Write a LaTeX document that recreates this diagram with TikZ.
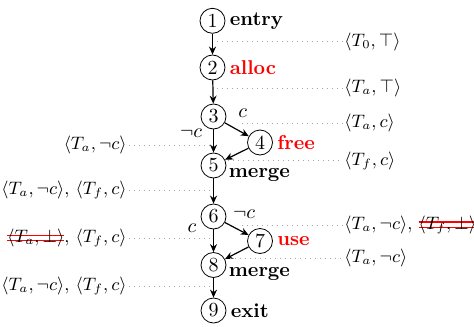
\documentclass[tikz,border=0pt]{standalone}
\usetikzlibrary{positioning,arrows.meta}

\newsavebox{\strikeBox}
\newcommand{\redStrike}[1]{\sbox{\strikeBox}{#1}%
  \rlap{\color{red}\rule[0.2ex]{\wd\strikeBox}{0.6pt}}%
  \rlap{\color{red}\rule[0.9ex]{\wd\strikeBox}{0.6pt}}%
  \usebox{\strikeBox}}

\begin{document}
\begin{tikzpicture}[x=0.5pt, y=-0.5pt,
    block/.style={circle, draw, minimum size=12.5pt, inner sep=0pt},
    tag/.style={font=\bfseries, inner sep=2pt},
    flow/.style={-{Stealth[length=4pt,width=3.5pt]}, line width=0.6pt},
    annot/.style={dotted, gray!70, line width=0.5pt},
    state/.style={inner sep=1pt, font=\small}]

    \definecolor{hotColour}{HTML}{FF0000}

    \useasboundingbox (0,0) rectangle (474,326);

    % Blocks
    \node[block] (n1) at (212.5,20.8) {1};
    \node[block] (n2) at (212.5,67.5) {2};
    \node[block] (n3) at (213.5,116.5) {3};
    \node[block] (n4) at (260,142.5) {4};
    \node[block] (n5) at (213.5,165.5) {5};
    \node[block] (n6) at (213.5,216.5) {6};
    \node[block] (n7) at (260,241) {7};
    \node[block] (n8) at (213.5,265) {8};
    \node[block] (n9) at (213.5,310.5) {9};

    % Block names
    \node[tag, right=0pt of n1] (t1) {entry};
    \node[tag, right=0pt of n2, text=hotColour] (t2) {alloc};
    \node[tag, right=0pt of n4, text=hotColour] (t4) {free};
    \node[tag, anchor=north west, inner sep=1pt] (t5) at (n5.east) {merge};
    \node[tag, right=0pt of n7, text=hotColour] (t7) {use};
    \node[tag, anchor=north west, inner sep=1pt] (t8) at (n8.east) {merge};
    \node[tag, right=0pt of n9] (t9) {exit};

    % Control flow
    \draw[flow] (n1) -- (n2);
    \draw[flow] (n2) -- (n3);
    \draw[flow] (n3) -- (n4);
    \draw[flow] (n3) -- (n5);
    \draw[flow] (n4) -- (n5);
    \draw[flow] (n5) -- (n6);
    \draw[flow] (n6) -- (n7);
    \draw[flow] (n6) -- (n8);
    \draw[flow] (n7) -- (n8);
    \draw[flow] (n8) -- (n9);

    % Branch conditions
    \node (c34) at (242.7,113) {$c$};
    \node (c35) at (191,133) {$\neg c$};
    \node (c67) at (244,214) {$\neg c$};
    \node (c68) at (192,228) {$c$};

    % Abstract states, right side
    \node[state, anchor=west] (s12) at (342,41.7) {$\langle T_0, \top\rangle$};
    \node[state, anchor=west] (s23) at (342,88.3) {$\langle T_a, \top\rangle$};
    \node[state, anchor=west] (s34) at (342,123.3) {$\langle T_a, c\rangle$};
    \node[state, anchor=west] (s45) at (342,160.7) {$\langle T_f, c\rangle$};
    \node[state, anchor=west] (s67) at (342,225) {$\langle T_a, \neg c\rangle$, \redStrike{$\langle T_f, \bot\rangle$}};
    \node[state, anchor=west] (s78) at (342,258.3) {$\langle T_a, \neg c\rangle$};

    % Abstract states, left side
    \node[state, anchor=east] (s35) at (129,145) {$\langle T_a, \neg c\rangle$};
    \node[state, anchor=east] (s56) at (129,190) {$\langle T_a, \neg c\rangle$, $\langle T_f, c\rangle$};
    \node[state, anchor=east] (s68) at (129,238.3) {\redStrike{$\langle T_a, \bot\rangle$}, $\langle T_f, c\rangle$};
    \node[state, anchor=east] (s89) at (129,286) {$\langle T_a, \neg c\rangle$, $\langle T_f, c\rangle$};

    % Ends of the dotted leaders
    \coordinate (d12) at (216.7,41.7);
    \coordinate (d23) at (216.7,88.3);
    \coordinate (d34) at (241.7,123.3);
    \coordinate (d45) at (228.3,160.7);
    \coordinate (d67) at (241.7,225);
    \coordinate (d78) at (230,258.3);
    \coordinate (d35) at (210,145);
    \coordinate (d56) at (210,190);
    \coordinate (d68) at (210,238.3);
    \coordinate (d89) at (210,286);

    % Dotted leaders
    \foreach \s in {12,23,34,45,67,78}
        \draw[annot] (d\s) -- (s\s.west);
    \foreach \s in {35,56,68,89}
        \draw[annot] (s\s.east) -- (d\s);

\end{tikzpicture}
\end{document}
